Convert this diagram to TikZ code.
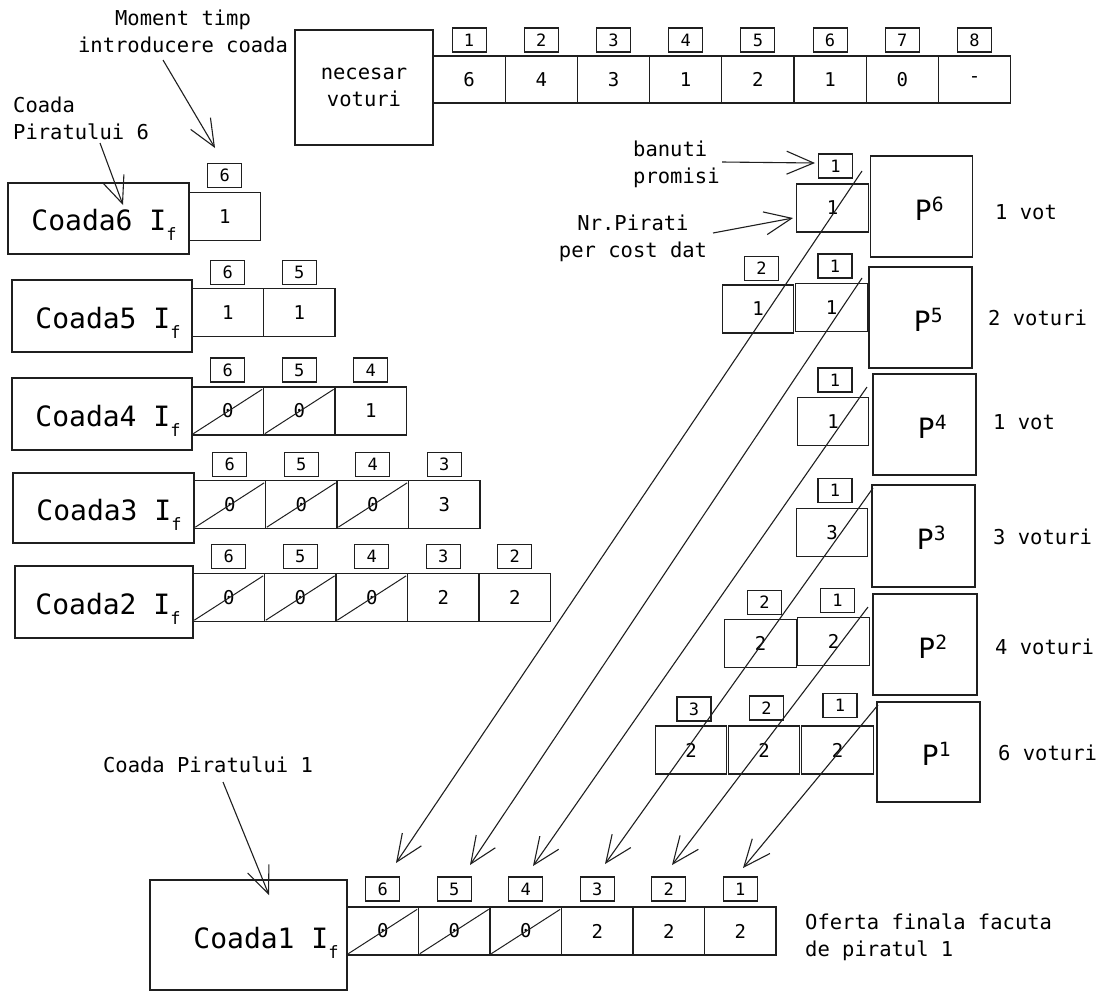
\documentclass[tikz,border=0pt]{standalone}
\usepackage{fontspec}
\setmainfont{DejaVu Sans Mono}
\usetikzlibrary{arrows.meta,calc}
\newcommand\pirrow[5]{%
  \foreach \v [count=\i] in {#5} {
    \pgfmathtruncatemacro\lab{7-\i}
    \node[cellbox] (#1c\i) at ({#2+71.5*(\i-0.5)},#3) {\v};
    \node[idxbox] (#1i\i) at ({#2+71.5*(\i-0.5)},#4) {\lab};
  }}
\newcommand\subf{\raisebox{-10pt}[0pt][0pt]{\fontsize{17}{17}\selectfont f}}
\begin{document}
\begin{tikzpicture}[x=1pt,y=-1pt,
  ink/.style={draw=black!88, line width=1.3pt},
  cellbox/.style={ink, minimum width=71.5pt, minimum height=48pt, inner sep=0pt, font=\fontsize{19}{22}\selectfont},
  idxbox/.style={ink, line width=1.1pt, minimum width=34pt, minimum height=24pt, inner sep=0pt, font=\fontsize{17}{20}\selectfont},
  bigbox/.style={ink, inner sep=0pt},
  bigtext/.style={font=\fontsize{28}{32}\selectfont, inner sep=0pt},
  note/.style={font=\fontsize{20.5}{27}\selectfont, inner sep=0pt},
  arr/.style={draw=black!88, line width=1.1pt, -{Straight Barb[length=27pt,width=23pt,line width=1.1pt]}},
  strike/.style={draw=black!88, line width=1pt}]
\useasboundingbox (0,0) rectangle (1102,994);

% top table
\node[bigbox, minimum width=138pt, minimum height=115pt, font=\fontsize{20.5}{27}\selectfont, align=center] (nec) at (364,87.5) {necesar\\voturi};
\foreach \v [count=\i] in {6,4,3,1,2,1,0,-} {
  \node[cellbox, minimum width=72.2pt, minimum height=47pt] (nv\i) at ({433+72.2*(\i-0.5)},79.5) {\v};
  \node[idxbox] (ni\i) at ({433+72.2*(\i-0.5)},40) {\i};
}

% notes top-left
\node[note, align=center] (moment) at (183,31.5) {Moment timp\\introducere coada};
\node[note, align=left, anchor=west] (cp6) at (13,118.5) {Coada\\Piratului 6};

% queues left
\node[bigbox, minimum width=181pt, minimum height=71pt] (q6) at (98.5,218.5) {};
\node[bigtext] (q6t) at (104,220) {Coada6 I\subf};
\pirrow{q6}{189}{216.5}{175.5}{1}

\node[bigbox, minimum width=180pt, minimum height=72pt] (q5) at (102,316) {};
\node[bigtext] (q5t) at (108,318) {Coada5 I\subf};
\pirrow{q5}{192}{312.5}{272.5}{1,1}

\node[bigbox, minimum width=180pt, minimum height=72pt] (q4) at (102,414) {};
\node[bigtext] (q4t) at (108,416) {Coada4 I\subf};
\pirrow{q4}{192}{411}{370}{0,0,1}
\foreach \i in {1,2} \draw[strike] ([shift={(2,-2)}]q4c\i.south west) -- ([shift={(-2,3)}]q4c\i.north east);

\node[bigbox, minimum width=181pt, minimum height=70pt] (q3) at (103.5,508) {};
\node[bigtext] (q3t) at (109,510) {Coada3 I\subf};
\pirrow{q3}{194}{504.5}{464.5}{0,0,0,3}
\foreach \i in {1,2,3} \draw[strike] ([shift={(2,-2)}]q3c\i.south west) -- ([shift={(-2,3)}]q3c\i.north east);

\node[bigbox, minimum width=178pt, minimum height=72pt] (q2) at (104,602) {};
\node[bigtext] (q2t) at (108,604) {Coada2 I\subf};
\pirrow{q2}{193}{597.5}{556.5}{0,0,0,2,2}
\foreach \i in {1,2,3} \draw[strike] ([shift={(2,-2)}]q2c\i.south west) -- ([shift={(-2,3)}]q2c\i.north east);

% bottom queue
\node[bigbox, minimum width=197pt, minimum height=110pt] (q1) at (248.5,935) {};
\node[bigtext] (q1t) at (266,938) {Coada1 I\subf};
\pirrow{q1}{347}{931}{889}{0,0,0,2,2,2}
\foreach \i in {1,2,3} \draw[strike] ([shift={(2,-2)}]q1c\i.south west) -- ([shift={(-2,3)}]q1c\i.north east);
\node[note] (cp1) at (208,765) {Coada Piratului 1};
\node[note, align=left, anchor=west] (oferta) at (805,937) {Oferta finala facuta\\de piratul 1};

% pirate boxes
\foreach \n/\cx/\cy/\w/\h/\vot/\vx/\vy in {6/921.5/206.5/102/101/1 vot/995/212, 5/920.5/317.5/103/101/2 voturi/988/318, 4/924.5/424.5/103/101/1 vot/993/422, 3/923.5/536/103/102/3 voturi/993/537, 2/925/644.5/104/101/4 voturi/995/647, 1/928.5/752/103/100/6 voturi/998/753} {
  \node[bigbox, minimum width=\w pt, minimum height=\h pt] (p\n) at (\cx,\cy) {};
  \node[bigtext] (pt\n) at ($(p\n.center)+(8,2)$) {P\textsuperscript{\n}};
  \node[note, anchor=west] (v\n) at (\vx,\vy) {\vot};
}
% pirate cells
\foreach \nm/\cx/\cy/\v/\ix/\iy/\il in {a6/832.5/208/1/835.5/166/1, a5/758/309/1/761.5/268.5/2, b5/831.5/307.5/1/835/266/1, a4/833/421.5/1/835/380/1, a3/832/532.5/3/835/490.5/1, a2/760.5/643.5/2/764.5/602.5/2, b2/833.5/641.5/2/837.5/600.5/1, a1/691/750/2/694/709/3, b1/764/750/2/766.5/708/2, c1/837.5/750/2/840/705.5/1} {
  \node[cellbox] (pc\nm) at (\cx,\cy) {\v};
  \node[idxbox] (pi\nm) at (\ix,\iy) {\il};
}
\node[note, align=left, anchor=west] (banuti) at (633,164.5) {banuti\\promisi};
\node[note, align=center] (nrp) at (633,238) {Nr.Pirati\\per cost dat};

% annotation arrows
\coordinate (mA) at (163,60);   \coordinate (mB) at (215,148);
\coordinate (cA) at (100,143);  \coordinate (cB) at (123,205);
\coordinate (bA) at (722,162);  \coordinate (bB) at (815,163);
\coordinate (nA) at (713,233);  \coordinate (nB) at (793,218);
\coordinate (kA) at (223,782);  \coordinate (kB) at (269,895);
\draw[arr] (mA) -- (mB);
\draw[arr] (cA) -- (cB);
\draw[arr] (bA) -- (bB);
\draw[arr] (nA) -- (nB);
\draw[arr] (kA) -- (kB);

% transfer arrows
\coordinate (s6) at (862,171); \coordinate (e6) at (396,863);
\coordinate (s5) at (862,278); \coordinate (e5) at (470,865);
\coordinate (s4) at (867,387); \coordinate (e4) at (533,866);
\coordinate (s3) at (873,488); \coordinate (e3) at (605,864);
\coordinate (s2) at (868,607); \coordinate (e2) at (672,865);
\coordinate (s1) at (878,705); \coordinate (e1) at (743,868);
\foreach \k in {1,...,6} \draw[arr] (s\k) -- (e\k);
\end{tikzpicture}
\end{document}
